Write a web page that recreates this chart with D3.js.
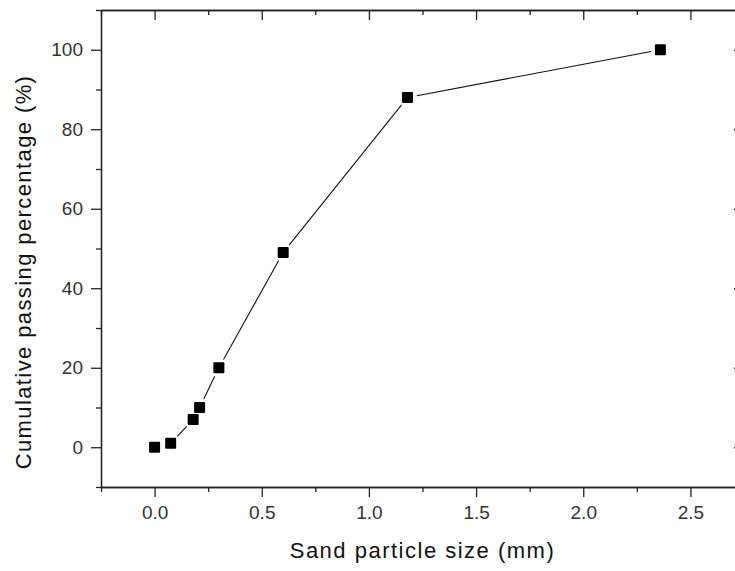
<!DOCTYPE html>
<html>
<head>
<meta charset="utf-8">
<script src="https://cdn.jsdelivr.net/npm/d3@7"></script>
<style>
  html, body { margin: 0; padding: 0; background: #fff; }
  svg { display: block; font-family: "Liberation Sans", Arial, sans-serif; }
</style>
</head>
<body>
<svg id="chart" width="735" height="571"></svg>
<script>
// Sieve analysis of the sand: particle size (mm) vs cumulative passing (%)
const sizes   = [0, 0.075, 0.18, 0.21, 0.3, 0.6, 1.18, 2.36];
const passing = [0, 1, 7, 10, 20, 49, 88, 100];

const xMajor = [0, 0.5, 1.0, 1.5, 2.0, 2.5];
const xMinor = [-0.25, 0.25, 0.75, 1.25, 1.75, 2.25, 2.75];
const yMajor = [0, 20, 40, 60, 80, 100];
const yMinor = [-10, 10, 30, 50, 70, 90, 110];

const xTitle = "Sand particle size (mm)";
const yTitle = "Cumulative passing percentage (%)";

const svg = d3.select("#chart");
const plotL = 101, plotR = 744, plotT = 10, plotB = 487;

const x = d3.scaleLinear().domain([-0.25, 2.75]).range([plotL, plotR]);
const y = d3.scaleLinear().domain([-10, 110]).range([plotB, plotT]);

const axisColor = "#222";
const fmtX = d3.format(".1f");

function styleAxis(g) {
  g.select(".domain").attr("stroke", axisColor).attr("stroke-width", 1.3);
  g.selectAll(".tick line").attr("stroke", axisColor).attr("stroke-width", 1.3);
  g.selectAll(".tick text")
    .attr("fill", "#333")
    .style("font-size", "19px")
    .style("font-family", "'Liberation Sans', Arial, sans-serif");
}

// bottom axis (outward ticks)
svg.append("g").attr("transform", `translate(0,${plotB})`)
  .call(d3.axisBottom(x).tickValues(xMinor).tickSize(5).tickSizeOuter(0).tickFormat(""))
  .call(styleAxis);
svg.append("g").attr("transform", `translate(0,${plotB})`)
  .call(d3.axisBottom(x).tickValues(xMajor).tickSize(10).tickSizeOuter(0).tickPadding(9).tickFormat(fmtX))
  .call(styleAxis);

// left axis (outward ticks)
svg.append("g").attr("transform", `translate(${plotL},0)`)
  .call(d3.axisLeft(y).tickValues(yMinor).tickSize(5).tickSizeOuter(0).tickFormat(""))
  .call(styleAxis);
svg.append("g").attr("transform", `translate(${plotL},0)`)
  .call(d3.axisLeft(y).tickValues(yMajor).tickSize(10).tickSizeOuter(0).tickPadding(8).tickFormat(d3.format("d")))
  .call(styleAxis);

// top axis (inward ticks, no labels)
svg.append("g").attr("transform", `translate(0,${plotT})`)
  .call(d3.axisTop(x).tickValues(xMinor).tickSize(-5).tickSizeOuter(0).tickFormat(""))
  .call(styleAxis);
svg.append("g").attr("transform", `translate(0,${plotT})`)
  .call(d3.axisTop(x).tickValues(xMajor).tickSize(-10).tickSizeOuter(0).tickFormat(""))
  .call(styleAxis);

// right axis (inward ticks, no labels)
svg.append("g").attr("transform", `translate(${plotR},0)`)
  .call(d3.axisRight(y).tickValues(yMinor).tickSize(-5).tickSizeOuter(0).tickFormat(""))
  .call(styleAxis);
svg.append("g").attr("transform", `translate(${plotR},0)`)
  .call(d3.axisRight(y).tickValues(yMajor).tickSize(-10).tickSizeOuter(0).tickFormat(""))
  .call(styleAxis);

// connecting line, segments stop short of each marker
const pts = sizes.map((s, i) => [x(s), y(passing[i])]);
const gap = 9.5;
const segs = [];
for (let i = 0; i < pts.length - 1; i++) {
  const [x0, y0] = pts[i], [x1, y1] = pts[i + 1];
  const d = Math.hypot(x1 - x0, y1 - y0);
  if (d <= 2 * gap) continue;
  const ux = (x1 - x0) / d, uy = (y1 - y0) / d;
  segs.push([[x0 + ux * gap, y0 + uy * gap], [x1 - ux * gap, y1 - uy * gap]]);
}
svg.append("g").selectAll("path").data(segs).join("path")
  .attr("d", d3.line())
  .attr("fill", "none")
  .attr("stroke", "#111")
  .attr("stroke-width", 1.1);

// square markers
const ms = 11;
svg.append("g").selectAll("rect").data(sizes).join("rect")
  .attr("x", (d) => x(d) - ms / 2)
  .attr("y", (d, i) => y(passing[i]) - ms / 2)
  .attr("width", ms).attr("height", ms)
  .attr("rx", 1)
  .attr("fill", "#000");

// axis titles
svg.append("text")
  .attr("x", (plotL + plotR) / 2).attr("y", 558)
  .attr("text-anchor", "middle")
  .style("font-size", "22px").style("letter-spacing", "1.5px").attr("fill", "#111")
  .text(xTitle);

svg.append("text")
  .attr("transform", `translate(31,272) rotate(-90)`)
  .attr("text-anchor", "middle")
  .style("font-size", "22px").style("letter-spacing", "1.4px").attr("fill", "#111")
  .text(yTitle);
</script>
</body>
</html>
